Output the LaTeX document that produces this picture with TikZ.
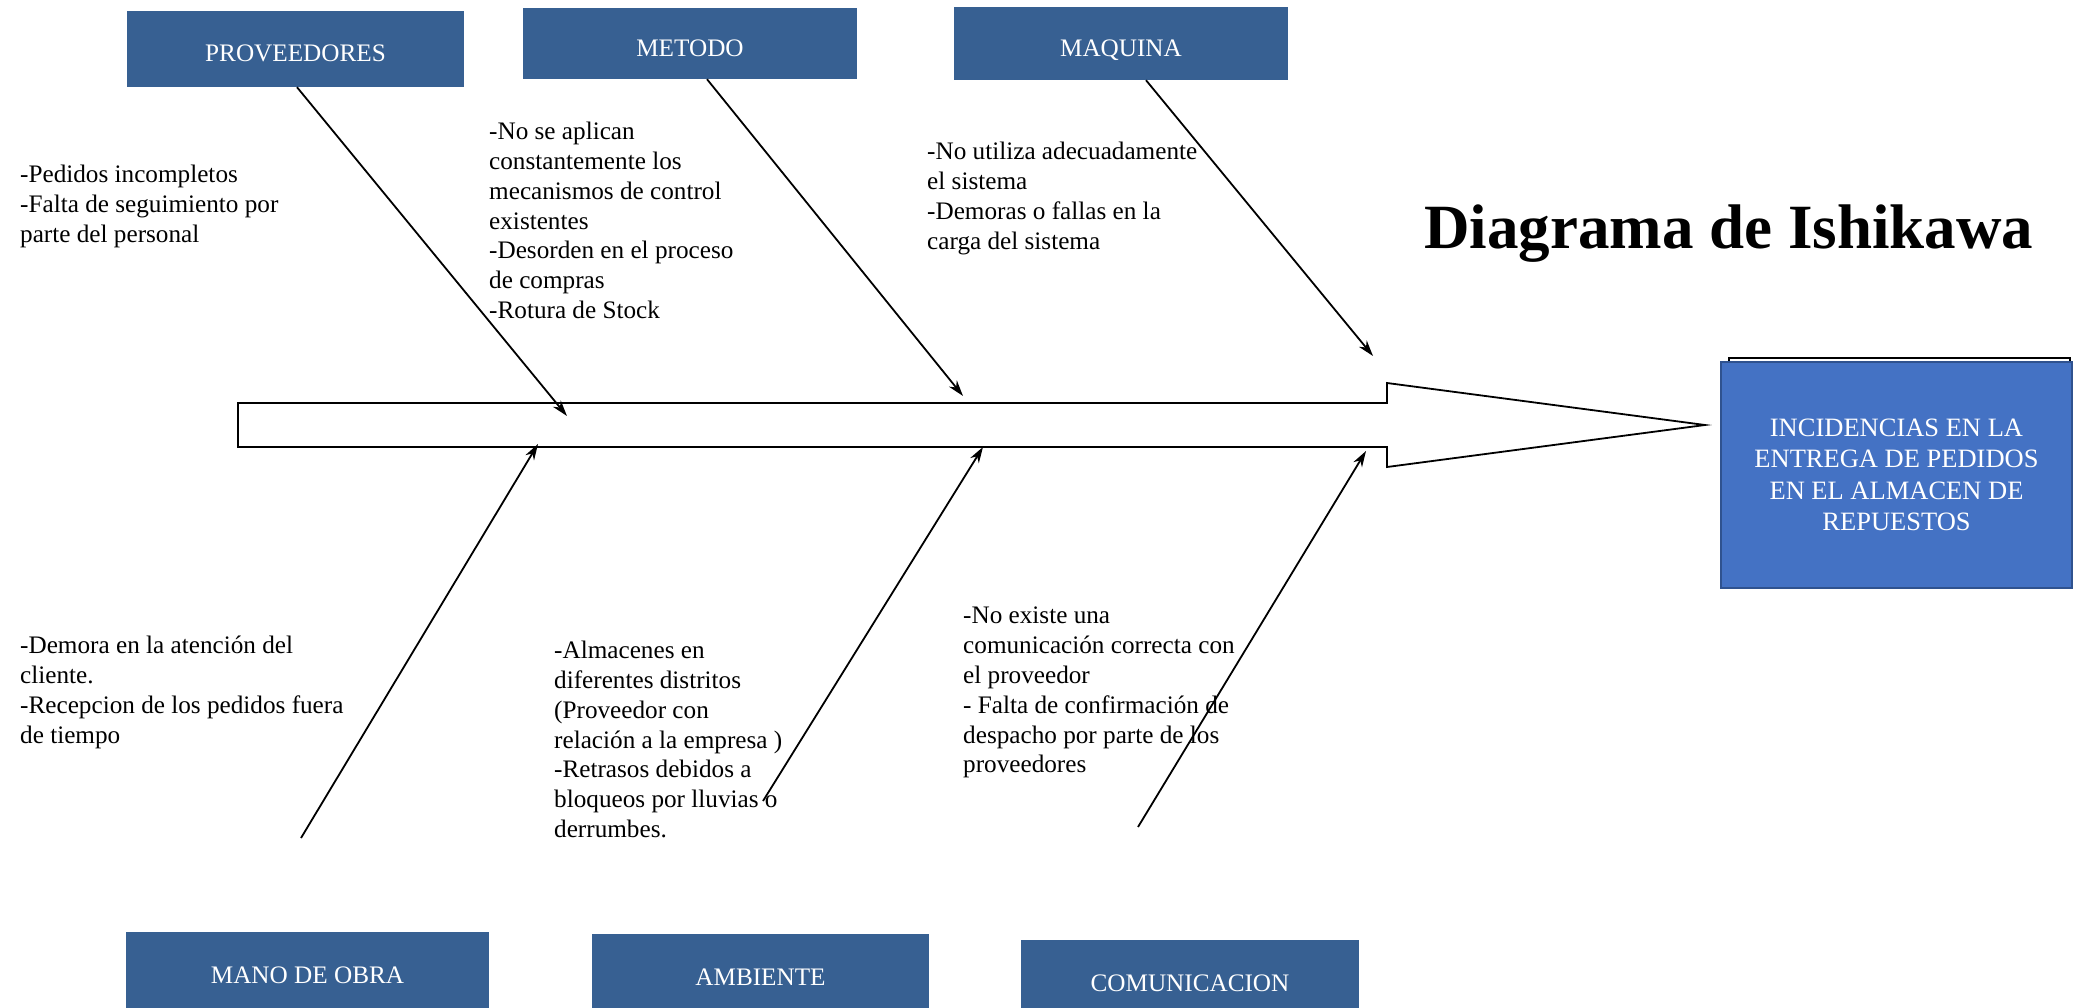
\documentclass[tikz,border=0pt]{standalone}
\usepackage{fontspec}
\setmainfont{Liberation Serif}
\usetikzlibrary{positioning,calc,arrows.meta}
\definecolor{catblue}{RGB}{55,96,146}
\definecolor{headblue}{RGB}{68,114,196}
\definecolor{headedge}{RGB}{47,82,143}

\begin{document}
\begin{tikzpicture}[x=1pt,y=-1pt]
	\clip (0,0) rectangle (2077,1008);
	\fill [white] (0,0) rectangle (2077,1008);
	\begin{scope}
		\tikzstyle{every node}=[inner sep=0pt]
		\tikzstyle{catbox}=[fill=catblue, text=white, minimum width=336pt, minimum height=74pt, font=\fontsize{25.2}{29}\selectfont]
		\tikzstyle{upbox}=[catbox, text height=26pt, text depth=0pt]
		\tikzstyle{cause}=[anchor=north west, align=left, font=\fontsize{25.2}{29.8}\selectfont]
		\tikzstyle{bone}=[line width=1.8pt, -{Stealth[length=16pt,width=10pt,inset=5pt]}]

		\draw [line width=1.8pt] (238,403) -- (1387,403) -- (1387,383) -- (1705,425) -- (1387,467) -- (1387,447) -- (238,447) -- cycle;

		\draw [line width=1.5pt, fill=white] (1729,358) rectangle (2070,520);
		\node [fill=headblue, draw=headedge, line width=1.5pt, text=white, align=center, minimum width=351pt, minimum height=226pt, font=\fontsize{26.5}{31.5}\selectfont] (head) at (1896.5, 475) {INCIDENCIAS EN LA\\ENTREGA DE PEDIDOS\\EN EL ALMACEN DE\\REPUESTOS};

		\node [anchor=base west, font=\bfseries\fontsize{63}{70}\selectfont] (title) at (1424, 249) {Diagrama de Ishikawa};

		\node [upbox, minimum width=337pt, minimum height=76pt] (prov) at (295.5, 49) {PROVEEDORES};
		\node [upbox, minimum width=334pt, minimum height=71pt] (met) at (690, 43.5) {METODO};
		\node [upbox, minimum width=334pt, minimum height=73pt] (maq) at (1121, 43.5) {MAQUINA};
		\node [catbox, minimum width=363pt, minimum height=86pt] (mano) at (307.5, 975) {MANO DE OBRA};
		\node [catbox, minimum width=337pt, minimum height=86pt] (amb) at (760.5, 977) {AMBIENTE};
		\node [catbox, minimum width=338pt, minimum height=86pt] (com) at (1190, 983) {COMUNICACION};

		\node [cause] (provtxt) at (20, 165) {-Pedidos incompletos\\-Falta de seguimiento por\\parte del personal};
		\node [cause] (mettxt) at (489, 122) {-No se aplican\\constantemente los\\mecanismos de control\\existentes\\-Desorden en el proceso\\de compras\\-Rotura de Stock};
		\node [cause] (maqtxt) at (927, 142) {-No utiliza adecuadamente\\el sistema\\-Demoras o fallas en la\\carga del sistema};
		\node [cause] (manotxt) at (20, 636) {-Demora en la atención del\\cliente.\\-Recepcion de los pedidos fuera\\de tiempo};
		\node [cause] (ambtxt) at (554, 641) {-Almacenes en\\diferentes distritos\\(Proveedor con\\relación a la empresa )\\-Retrasos debidos a\\bloqueos por lluvias o\\derrumbes.};
		\node [cause] (comtxt) at (963, 607) {-No existe una\\comunicación correcta con\\el proveedor\\- Falta de confirmación de\\despacho por parte de los\\proveedores};

		\coordinate (provtip) at (567, 416);
		\coordinate (mettip) at (963, 396);
		\coordinate (maqtip) at (1373, 356);
		\coordinate (manofoot) at (301, 838);
		\coordinate (manotip) at (538, 444);
		\coordinate (ambfoot) at (763, 801);
		\coordinate (ambtip) at (983, 447);
		\coordinate (comfoot) at (1138, 827);
		\coordinate (comtip) at (1366, 451);

		\draw [bone] ([xshift=1.5pt]prov.south) to (provtip);
		\draw [bone] ([xshift=17pt]met.south) to (mettip);
		\draw [bone] ([xshift=25pt]maq.south) to (maqtip);
		\draw [bone] (manofoot) to (manotip);
		\draw [bone] (ambfoot) to (ambtip);
		\draw [bone] (comfoot) to (comtip);
	\end{scope}
\end{tikzpicture}
\end{document}
